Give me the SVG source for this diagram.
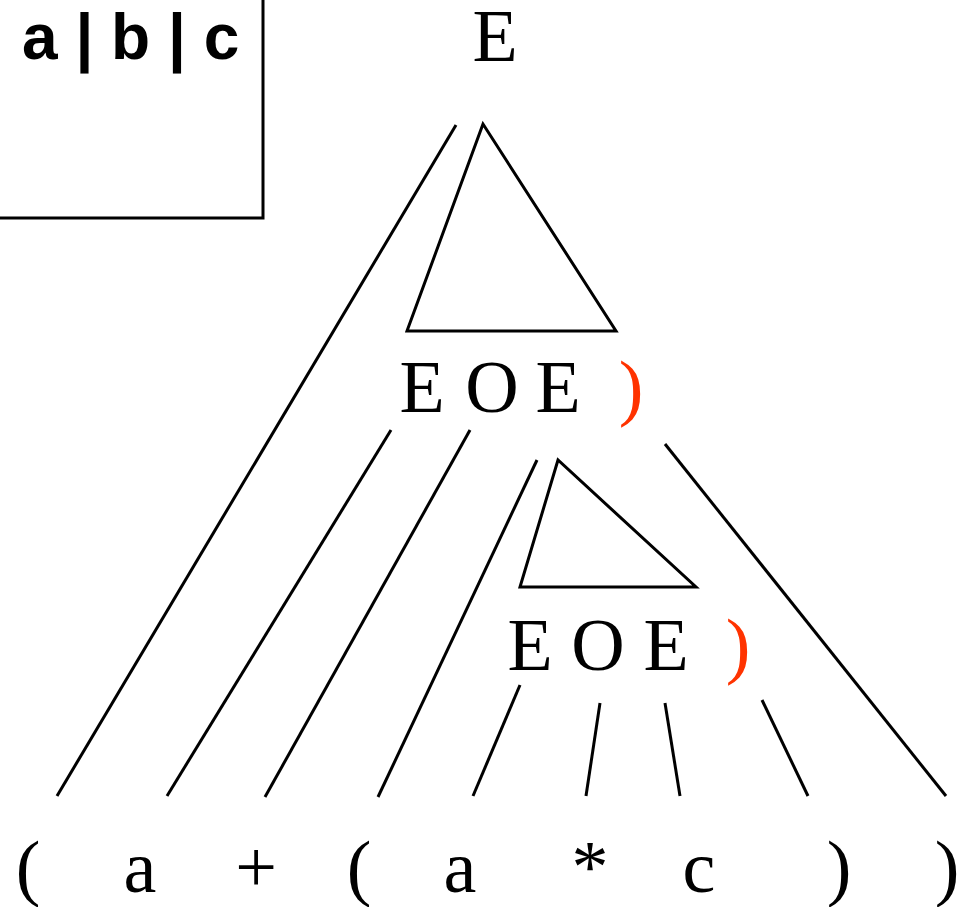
<svg xmlns="http://www.w3.org/2000/svg" width="960" height="907" viewBox="0 0 960 907">
<style>
.ln{stroke:#000;stroke-width:3;fill:none;stroke-linecap:butt}
.t{font-family:"Liberation Serif","Times New Roman",serif;font-size:74px;fill:#000;text-anchor:middle}
.red{fill:#FF3300}
.g{font-family:"Liberation Sans",Arial,sans-serif;font-weight:bold;font-size:64px;fill:#000}
</style>
<rect width="960" height="907" fill="#fff"/>
<g id="legend">
<path class="ln" d="M0,218 H263 V0"/>
<text class="g" x="22" y="59">a | b | c</text>
</g>
<g id="root"><text class="t" x="495" y="61">E</text></g>
<g id="tri1"><polygon class="ln" points="483,124 407,331 616,331"/></g>
<g id="row1">
<text class="t" x="422" y="412">E</text>
<text class="t" x="492" y="412">O</text>
<text class="t" x="558" y="412">E</text>
<text class="t red" x="631" y="412">)</text>
</g>
<g id="tri2"><polygon class="ln" points="558,460 520,587 696,587"/></g>
<g id="row2">
<text class="t" x="530" y="670">E</text>
<text class="t" x="598" y="670">O</text>
<text class="t" x="666" y="670">E</text>
<text class="t red" x="738" y="670">)</text>
</g>
<g id="leaves">
<text class="t" x="28" y="892">(</text>
<text class="t" x="140" y="892">a</text>
<text class="t" x="256" y="892">+</text>
<text class="t" x="359" y="892">(</text>
<text class="t" x="460" y="892">a</text>
<text class="t" x="590" y="892">*</text>
<text class="t" x="699" y="892">c</text>
<text class="t" x="839" y="892">)</text>
<text class="t" x="947" y="892">)</text>
</g>
<g id="connectors">
<line class="ln" x1="456" y1="125" x2="57" y2="796"/>
<line class="ln" x1="391" y1="430" x2="167" y2="796"/>
<line class="ln" x1="470" y1="430" x2="265" y2="797"/>
<line class="ln" x1="537" y1="460" x2="378" y2="797"/>
<line class="ln" x1="665" y1="444" x2="946" y2="796"/>
<line class="ln" x1="520" y1="685" x2="473" y2="796"/>
<line class="ln" x1="600" y1="703" x2="586" y2="796"/>
<line class="ln" x1="665" y1="703" x2="680" y2="796"/>
<line class="ln" x1="762" y1="700" x2="808" y2="796"/>
</g>
</svg>
